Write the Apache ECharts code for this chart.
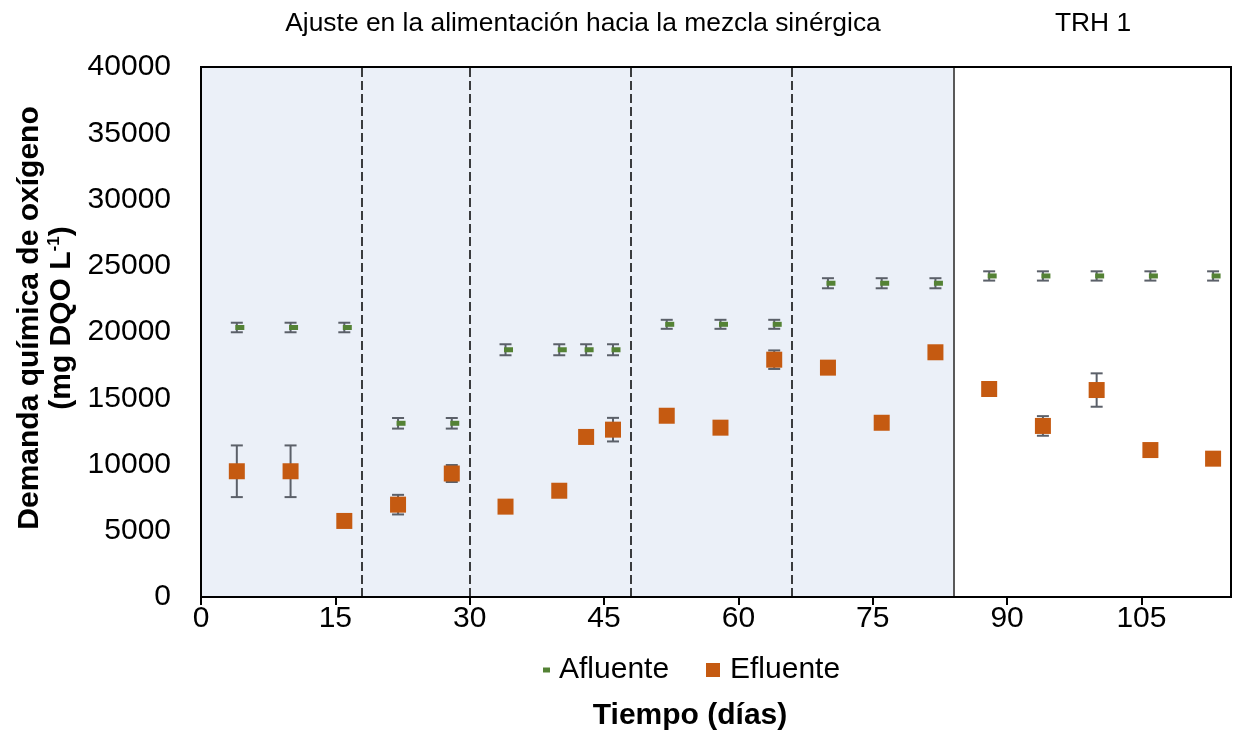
<!DOCTYPE html>
<html>
<head>
<meta charset="utf-8">
<script src="https://cdn.jsdelivr.net/npm/echarts@6/dist/echarts.min.js"></script>
<style>
  html, body { margin: 0; padding: 0; background: #ffffff; }
  #chart { width: 1233px; height: 734px; }
</style>
</head>
<body>
<div id="chart"></div>
<script>
// Sampling days (días)
const days = [4, 10, 16, 22, 28, 34, 40, 43, 46, 52, 58, 64, 70, 76, 82, 88, 94, 100, 106, 113];

// Influent COD (mg DQO/L) and its standard deviation
const afluente = [20340, 20340, 20340, 13110, 13110, 18660, 18660, 18660, 18660,
                  20580, 20580, 20580, 23680, 23680, 23680, 24230, 24230, 24230, 24230, 24230];
const afluenteErr = [360, 360, 360, 400, 400, 415, 415, 415, 415,
                     340, 340, 340, 380, 380, 380, 350, 350, 350, 350, 350];

// Effluent COD (mg DQO/L) and its standard deviation
const efluente = [9490, 9490, 5740, 6970, 9320, 6820, 8020, 12080, 12630,
                  13680, 12780, 17910, 17310, 13150, 18470, 15700, 12910, 15620, 11090, 10440];
const efluenteErr = [1950, 1950, 0, 740, 640, 0, 0, 0, 890,
                     0, 0, 700, 0, 0, 0, 0, 740, 1260, 0, 0];

// Phase boundaries (days): dashed feed-adjustment steps, solid start of TRH 1
const phaseSteps = [18, 30, 48, 66];
const trhStart = 84;

const xTicks = { min: 0, max: 115, interval: 15 };
const yTicks = { min: 0, max: 40000, interval: 5000 };

const FONT = "'Liberation Sans', Arial, sans-serif";
const ERR_COLOR = '#5b6069';
const GREEN = '#548235';
const ORANGE = '#c55a11';

function errorData(vals, errs) {
  return days.map((d, i) => [d, vals[i], errs[i]]);
}

function renderErrorBar(params, api) {
  const x = api.value(0), v = api.value(1), e = api.value(2);
  if (!e) return null;
  const top = api.coord([x, v + e]);
  const bot = api.coord([x, v - e]);
  const hw = 6;
  const style = { stroke: ERR_COLOR, lineWidth: 2 };
  return {
    type: 'group',
    children: [
      { type: 'line', shape: { x1: top[0], y1: top[1], x2: bot[0], y2: bot[1] }, style },
      { type: 'line', shape: { x1: top[0] - hw, y1: top[1], x2: top[0] + hw, y2: top[1] }, style },
      { type: 'line', shape: { x1: bot[0] - hw, y1: bot[1], x2: bot[0] + hw, y2: bot[1] }, style }
    ]
  };
}

const chart = echarts.init(document.getElementById('chart'), null, { renderer: 'canvas' });

const option = {
  animation: false,
  backgroundColor: '#ffffff',
  textStyle: { fontFamily: FONT },
  grid: {
    left: 201, right: 2, top: 67, bottom: 137,
    show: true, backgroundColor: 'transparent',
    borderColor: '#000000', borderWidth: 2, z: 10
  },
  xAxis: {
    type: 'value',
    min: xTicks.min, max: xTicks.max, interval: xTicks.interval,
    z: 10,
    axisLine: { show: true, lineStyle: { color: '#000000', width: 2 } },
    axisTick: { show: true, inside: false, length: 8, lineStyle: { color: '#000000', width: 2 } },
    axisLabel: { show: true, showMaxLabel: false, margin: 7, color: '#000000', fontSize: 30, fontFamily: FONT,
                 formatter: v => String(v) },
    splitLine: { show: false }
  },
  yAxis: {
    type: 'value',
    min: yTicks.min, max: yTicks.max, interval: yTicks.interval,
    z: 10,
    axisLine: { show: true, lineStyle: { color: '#000000', width: 2 } },
    axisTick: { show: false },
    axisLabel: { show: true, margin: 30, color: '#000000', fontSize: 30, fontFamily: FONT,
                 formatter: v => String(v) },
    splitLine: { show: false }
  },
  legend: [
    {
      data: [{ name: 'Afluente', icon: 'rect', itemStyle: { color: GREEN } }],
      left: 543, top: 655, padding: 0,
      itemWidth: 7, itemHeight: 5,
      textStyle: { fontSize: 30, color: '#000000', fontFamily: FONT, lineHeight: 30, padding: [0, 0, 0, 4] },
      selectedMode: false
    },
    {
      data: [{ name: 'Efluente', icon: 'rect', itemStyle: { color: ORANGE } }],
      left: 706, top: 655, padding: 0,
      itemWidth: 14, itemHeight: 14,
      textStyle: { fontSize: 30, color: '#000000', fontFamily: FONT, lineHeight: 30, padding: [0, 0, 0, 5] },
      selectedMode: false
    }
  ],
  graphic: [
    {
      type: 'text', x: 583, y: 24,
      style: { text: 'Ajuste en la alimentación hacia la mezcla sinérgica', font: '26.4px ' + FONT,
               fill: '#000000', align: 'center', verticalAlign: 'middle' }
    },
    {
      type: 'text', x: 1093, y: 24,
      style: { text: 'TRH 1', font: '26.4px ' + FONT, fill: '#000000', align: 'center', verticalAlign: 'middle' }
    },
    {
      type: 'text', x: 690, y: 716,
      style: { text: 'Tiempo (días)', font: 'bold 30px ' + FONT, fill: '#000000', align: 'center', verticalAlign: 'middle' }
    },
    {
      type: 'text', x: 46, y: 318, rotation: Math.PI / 2,
      style: {
        text: '{b|Demanda química de oxígeno}\n{b|(mg DQO L}{s|-1}{b|)}',
        align: 'center', verticalAlign: 'middle', fill: '#000000',
        rich: {
          b: { fontFamily: FONT, fontWeight: 'bold', fontSize: 30, lineHeight: 32, fill: '#000000' },
          s: { fontFamily: FONT, fontWeight: 'bold', fontSize: 17, lineHeight: 32, verticalAlign: 'top', fill: '#000000' }
        }
      }
    }
  ],
  series: [
    {
      // phase shading and boundaries
      name: 'fases', type: 'scatter', data: [], z: 1, silent: true,
      markArea: {
        silent: true,
        itemStyle: { color: '#ebf0f8' },
        data: [[{ xAxis: 0 }, { xAxis: trhStart }]]
      },
      markLine: {
        silent: true, symbol: 'none', label: { show: false },
        data: phaseSteps.map(d => ({ xAxis: d, lineStyle: { type: [9, 4], color: '#000000', width: 1.5 } }))
          .concat([{ xAxis: trhStart, lineStyle: { type: 'solid', color: '#595959', width: 2 } }])
      }
    },
    {
      name: 'errAfluente', type: 'custom', z: 3, silent: true,
      renderItem: renderErrorBar, data: errorData(afluente, afluenteErr)
    },
    {
      name: 'errEfluente', type: 'custom', z: 3, silent: true,
      renderItem: renderErrorBar, data: errorData(efluente, efluenteErr)
    },
    {
      name: 'Afluente', type: 'scatter', z: 4,
      symbol: 'rect', symbolSize: [9, 5], symbolOffset: [3, 0],
      itemStyle: { color: GREEN, opacity: 1 },
      data: days.map((d, i) => [d, afluente[i]])
    },
    {
      name: 'Efluente', type: 'scatter', z: 4,
      symbol: 'rect', symbolSize: 16,
      itemStyle: { color: ORANGE, opacity: 1 },
      data: days.map((d, i) => [d, efluente[i]])
    }
  ]
};

chart.setOption(option);
</script>
</body>
</html>
